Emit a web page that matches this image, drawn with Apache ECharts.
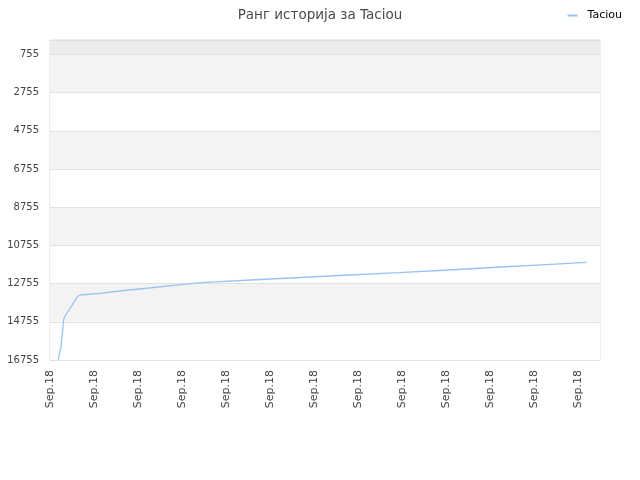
<!DOCTYPE html>
<html>
<head>
<meta charset="utf-8">
<script src="https://cdn.jsdelivr.net/npm/echarts@6/dist/echarts.min.js"></script>
<style>html,body{margin:0;padding:0;background:#fff}#c{width:640px;height:480px}</style>
</head>
<body>
<div id="c"></div>
<script>
const titleText = 'Ранг историја за Taciou';
const seriesName = 'Taciou';
const xTickLabels = ['Sep.18','Sep.18','Sep.18','Sep.18','Sep.18','Sep.18','Sep.18','Sep.18','Sep.18','Sep.18','Sep.18','Sep.18','Sep.18'];
const yTickValues = [755, 2755, 4755, 6755, 8755, 10755, 12755, 14755, 16755];
// time index (x) and rank (y)
const timeIdx = [3, 4, 5, 6, 8, 10, 11, 13, 18, 27, 36, 45, 55, 73, 91, 109, 127, 145, 164, 182, 195];
const rankVals = [16755, 16074, 14608, 14320, 13891, 13430, 13352, 13326, 13263, 13116, 12985, 12844, 12708, 12566, 12435, 12305, 12184, 12043, 11886, 11745, 11640];

const chart = echarts.init(document.getElementById('c'), null, {renderer: 'canvas'});
const fam = 'DejaVu Sans';
chart.setOption({
  animation: false,
  backgroundColor: '#fff',
  title: {
    text: titleText, left: 'center', top: 3,
    textStyle: {fontFamily: fam, fontSize: 13.5, fontWeight: 'normal', color: '#4a4a4a'}
  },
  legend: {
    right: 13, top: 5, itemWidth: 10, itemHeight: 2, itemGap: 6,
    icon: 'rect',
    textStyle: {fontFamily: fam, fontSize: 11, color: '#000', padding: [0, 0, 0, 5]},
    data: [seriesName]
  },
  grid: {left: 50, right: 40, top: 40, bottom: 120, show: true, borderColor: '#ddd', borderWidth: 1, backgroundColor: 'transparent'},
  xAxis: {
    type: 'value', min: 0, max: 200, interval: 16,
    axisLine: {show: true, lineStyle: {color: '#ddd'}},
    axisTick: {show: false},
    splitLine: {show: false},
    axisLabel: {
      rotate: 90, margin: 10, showMaxLabel: false,
      fontFamily: fam, fontSize: 11, color: '#444',
      formatter: v => xTickLabels[Math.round(v / 16)] || ''
    }
  },
  yAxis: {
    type: 'value', inverse: true, min: 0, max: 16755,
    axisLine: {show: false},
    axisTick: {show: false, customValues: [0].concat(yTickValues)},
    axisLabel: {customValues: yTickValues, margin: 11, fontFamily: fam, fontSize: 10, color: '#444', formatter: v => String(v)},
    splitLine: {show: true, lineStyle: {color: '#e2e2e2'}},
    splitArea: {show: true, areaStyle: {color: ['#ececec','#f3f3f3','#ffffff','#f3f3f3','#ffffff','#f3f3f3','#ffffff','#f3f3f3','#ffffff']}}
  },
  series: [{
    name: seriesName, type: 'line', showSymbol: false, symbol: 'none',
    lineStyle: {color: '#99c4f2', width: 1.3},
    itemStyle: {color: '#99c4f2'},
    data: timeIdx.map((t, i) => [t, rankVals[i]])
  }]
});
</script>
</body>
</html>
